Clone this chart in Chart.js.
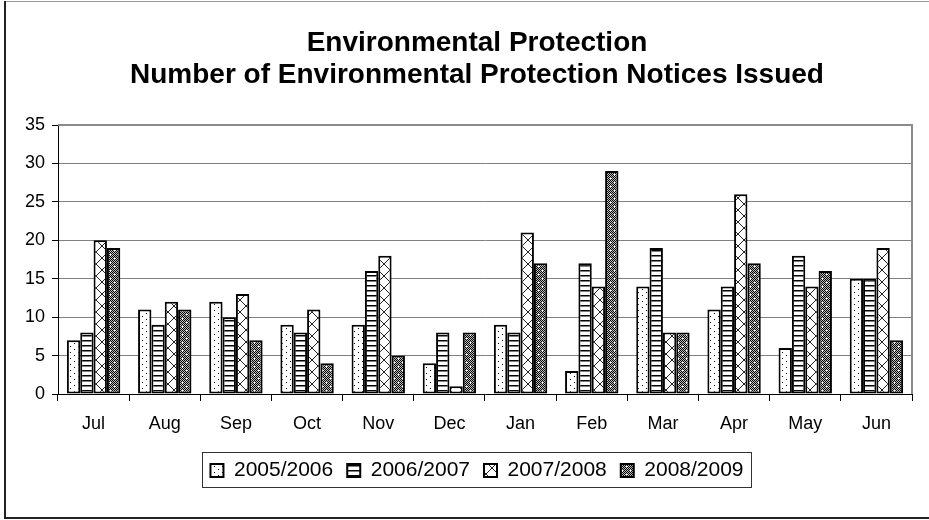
<!DOCTYPE html>
<html>
<head>
<meta charset="utf-8">
<script src="https://cdn.jsdelivr.net/npm/chart.js@4.4.1/dist/chart.umd.min.js"></script>
<style>
  html, body { margin: 0; padding: 0; background: #fff; }
  #wrap { width: 929px; height: 520px; position: relative; }
</style>
</head>
<body>
<div id="wrap"><canvas id="chartNotices" width="929" height="520"></canvas></div>
<script>
const months = ['Jul', 'Aug', 'Sep', 'Oct', 'Nov', 'Dec', 'Jan', 'Feb', 'Mar', 'Apr', 'May', 'Jun'];
const seriesNames = ['2005/2006', '2006/2007', '2007/2008', '2008/2009'];
const notices0506 = [7, 11, 12, 9, 9, 4, 9, 3, 14, 11, 6, 15];
const notices0607 = [8, 9, 10, 8, 16, 8, 8, 17, 19, 14, 18, 15];
const notices0708 = [20, 12, 13, 11, 18, 1, 21, 14, 8, 26, 14, 19];
const notices0809 = [19, 11, 7, 4, 5, 8, 17, 29, 8, 17, 16, 7];
const titleLines = ['Environmental Protection', 'Number of Environmental Protection Notices Issued'];

// small tiles used as fill patterns for the bars
const makeTile = function(w, h, paint) {
    const c = document.createElement('canvas');
    c.width = w;
    c.height = h;
    const g = c.getContext('2d');
    g.fillStyle = '#fff';
    g.fillRect(0, 0, w, h);
    paint(g, w, h);
    return document.createElement('canvas').getContext('2d').createPattern(c, 'repeat');
};

const dotted = makeTile(8, 6, (g) => {
    g.fillStyle = '#000';
    g.fillRect(2, 1, 1, 1);
    g.fillRect(6, 4, 1, 1);
});

const striped = makeTile(4, 5, (g, w) => {
    g.fillStyle = '#000';
    g.fillRect(0, 0, w, 1.5);
});

const hatched = makeTile(12, 12, (g, w, h) => {
    g.strokeStyle = '#222';
    g.lineWidth = 1;
    g.beginPath();
    g.moveTo(0, 0); g.lineTo(w, h);
    g.moveTo(w, 0); g.lineTo(0, h);
    g.stroke();
});

const shaded = makeTile(8, 8, (g, w, h) => {
    for (let y = 0; y < h; y++) {
        for (let x = 0; x < w; x++) {
            g.fillStyle = (x + y) % 2 === 0 ? '#000' : '#bbb';
            g.fillRect(x, y, 1, 1);
        }
    }
    g.fillStyle = '#fff';
    g.fillRect(2, 2, 2, 1);
    g.fillRect(6, 6, 1, 2);
});

const fills = [dotted, striped, hatched, shaded];
const values = [notices0506, notices0607, notices0708, notices0809];

// frames: outer chart border, grey plot frame, box around the legend
const framePlugin = {
    id: 'frames',
    beforeDatasetsDraw(chart) {
        const ctx = chart.ctx;
        const a = chart.chartArea;
        ctx.save();
        ctx.strokeStyle = '#8a8a8a';
        ctx.lineWidth = 2;
        ctx.beginPath();
        ctx.moveTo(a.left, a.top);
        ctx.lineTo(a.right, a.top);
        ctx.lineTo(a.right, a.bottom);
        ctx.stroke();
        ctx.restore();
    },
    afterDraw(chart) {
        const ctx = chart.ctx;
        ctx.save();
        const boxes = chart.legend.legendHitBoxes;
        if (boxes && boxes.length) {
            const left = Math.min(...boxes.map(b => b.left)) - 8;
            const right = Math.max(...boxes.map(b => b.left + b.width)) + 8;
            const top = Math.min(...boxes.map(b => b.top)) - 8;
            const bottom = Math.max(...boxes.map(b => b.top + b.height)) + 6;
            ctx.strokeStyle = '#333';
            ctx.lineWidth = 1;
            ctx.strokeRect(Math.round(left) + 0.5, Math.round(top) + 0.5, Math.round(right - left), Math.round(bottom - top));
        }
        ctx.strokeStyle = '#999';
        ctx.lineWidth = 1;
        ctx.beginPath();
        ctx.moveTo(5, 1.5);
        ctx.lineTo(929, 1.5);
        ctx.stroke();
        ctx.strokeStyle = '#222';
        ctx.lineWidth = 2;
        ctx.beginPath();
        ctx.moveTo(5, 1);
        ctx.lineTo(5, 518);
        ctx.lineTo(929, 518);
        ctx.stroke();
        ctx.restore();
    }
};

const ctx = document.getElementById('chartNotices').getContext('2d');
new Chart(ctx, {
    type: 'bar',
    data: {
        labels: months,
        datasets: seriesNames.map((name, i) => ({
            label: name,
            data: values[i],
            backgroundColor: fills[i],
            borderColor: '#000',
            borderWidth: 2,
            borderSkipped: false,
            categoryPercentage: 0.75,
            barPercentage: 1
        }))
    },
    options: {
        responsive: false,
        animation: false,
        devicePixelRatio: 1,
        layout: {
            padding: { left: 42, right: 17, top: 0, bottom: 29 }
        },
        scales: {
            x: {
                grid: {
                    offset: true,
                    drawOnChartArea: false,
                    drawTicks: true,
                    tickLength: 7,
                    tickColor: '#000'
                },
                border: { color: '#000', width: 1 },
                ticks: {
                    color: '#000',
                    padding: 12,
                    font: { family: 'Liberation Sans, Arial', size: 18 }
                },
                afterFit(scale) {
                    scale.height = 52;
                }
            },
            y: {
                min: 0,
                max: 35,
                ticks: {
                    stepSize: 5,
                    color: '#000',
                    padding: 7,
                    font: { family: 'Liberation Sans, Arial', size: 18 }
                },
                grid: {
                    color: '#808080',
                    tickColor: '#000',
                    tickLength: 6
                },
                border: { color: '#000', width: 1 },
                afterFit(scale) {
                    // narrow box so title and legend centre like the plot; labels may spill left
                    scale.width = 16;
                    scale._computeLabelArea = () => undefined;
                }
            }
        },
        plugins: {
            title: {
                display: true,
                text: titleLines,
                color: '#000',
                font: { family: 'Liberation Sans, Arial', size: 28, weight: 'bold', lineHeight: 1.143 },
                padding: { top: 27, bottom: 34 }
            },
            legend: {
                position: 'bottom',
                labels: {
                    color: '#000',
                    boxWidth: 13,
                    boxHeight: 13,
                    padding: 14,
                    font: { family: 'Liberation Sans, Arial', size: 21 }
                }
            },
            tooltip: { enabled: false }
        }
    },
    plugins: [framePlugin]
});
</script>
</body>
</html>
